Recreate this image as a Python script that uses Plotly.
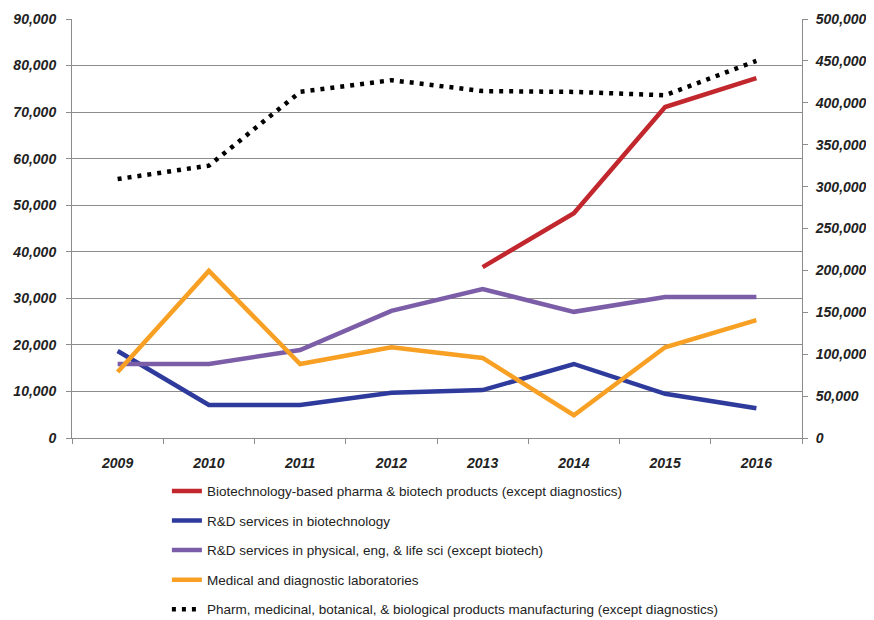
import plotly.graph_objects as go

years = ["2009", "2010", "2011", "2012", "2013", "2014", "2015", "2016"]

biotech_pharma = [None, None, None, None, 36700, 48300, 71100, 77300]
rd_biotech = [18700, 7100, 7100, 9700, 10300, 15900, 9500, 6400]
rd_physical = [15900, 15900, 18900, 27300, 32000, 27100, 30300, 30300]
med_labs = [14200, 35900, 15900, 19500, 17200, 4900, 19500, 25300]
pharm_mfg = [309000, 325000, 413000, 427000, 414000, 413000, 409000, 450000]

names = [
    "Biotechnology-based pharma & biotech products (except diagnostics)",
    "R&D services in biotechnology",
    "R&D services in physical, eng, & life sci (except biotech)",
    "Medical and diagnostic laboratories",
    "Pharm, medicinal, botanical, & biological products manufacturing (except diagnostics)",
]
colors = ["#C1272D", "#2E3A9C", "#7B5EA7", "#F7A024", "#000000"]

fig = go.Figure()
series = [biotech_pharma, rd_biotech, rd_physical, med_labs]
for i, s in enumerate(series):
    fig.add_trace(go.Scatter(
        x=years, y=s, mode="lines", name=names[i], legendgroup=f"g{i}",
        line=dict(color=colors[i], width=4.5), connectgaps=False,
    ))
fig.add_trace(go.Scatter(
    x=years, y=pharm_mfg, mode="lines", name=names[4], legendgroup="g4",
    yaxis="y2", line=dict(color=colors[4], width=4.5, dash="4px,6px"),
))

tick_font = dict(family="Liberation Sans", size=14, color="#222222", weight="bold", style="italic")
axis_gray = "#8c8c8c"

# the page body adds an 8px offset; figure is sized to fit the 874x620 window
fig.update_layout(
    width=866, height=612,
    margin=dict(l=64, r=72, t=11, b=182, autoexpand=False),
    paper_bgcolor="white", plot_bgcolor="white",
    showlegend=True,
    legend=dict(
        x=0.13, xanchor="left", y=-0.09, yanchor="top",
        font=dict(family="Liberation Sans", size=13.5, color="#222222"),
        tracegroupgap=9, bgcolor="rgba(0,0,0,0)",
    ),
    xaxis=dict(
        type="category", range=[-0.5, 7.5], showline=True, linecolor=axis_gray,
        linewidth=1, ticks="outside", tickson="boundaries", ticklen=5,
        tickcolor=axis_gray, showgrid=False, tickfont=tick_font,
        ticklabelstandoff=12, zeroline=False, automargin=False,
    ),
    yaxis=dict(
        range=[0, 90000], dtick=10000, tickformat=",", showline=True,
        linecolor=axis_gray, linewidth=1, ticks="outside", ticklen=5,
        tickcolor=axis_gray, showgrid=True, gridcolor=axis_gray, gridwidth=1,
        tickfont=tick_font, zeroline=False, ticklabelstandoff=7, automargin=False,
    ),
    yaxis2=dict(
        range=[0, 500000], dtick=50000, tickformat=",", overlaying="y",
        side="right", showline=True, linecolor=axis_gray, linewidth=1,
        ticks="outside", ticklen=5, tickcolor=axis_gray, showgrid=False,
        tickfont=tick_font, zeroline=False, ticklabelstandoff=5, automargin=False,
    ),
)

fig.write_html("out.html")
